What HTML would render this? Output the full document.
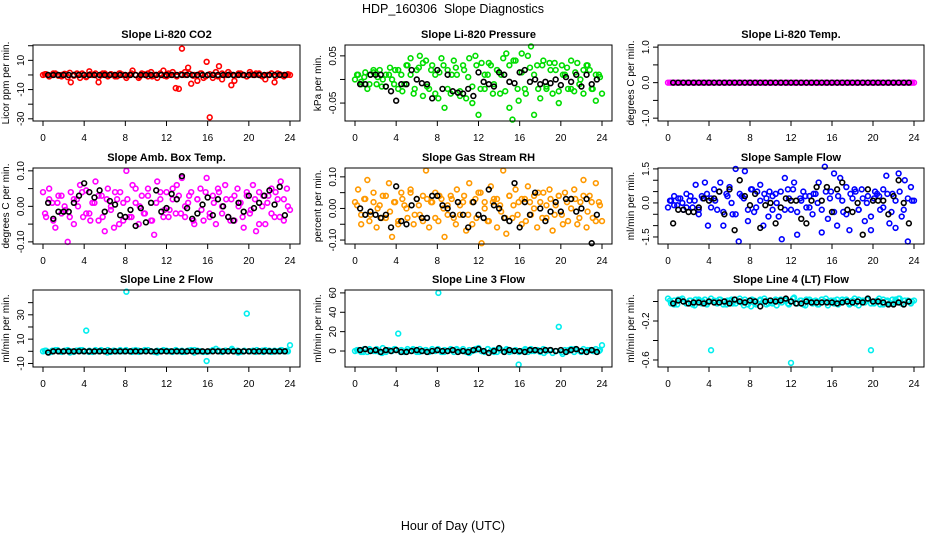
<!DOCTYPE html>
<html><head><meta charset="utf-8"><style>
body{margin:0;background:#fff;}
svg{display:block;font-family:"Liberation Sans",sans-serif;}
</style></head><body>
<svg id="chart" width="936" height="540" viewBox="0 0 936 540">
<text x="453" y="13" text-anchor="middle" font-size="12.5">HDP_160306&#160; Slope Diagnostics</text>
<text x="453" y="530" text-anchor="middle" font-size="12.5">Hour of Day (UTC)</text>
</svg>
<script>
const xTicks=[0,4,8,12,16,20,24];
const titles=["Slope Li-820 CO2","Slope Li-820 Pressure","Slope Li-820 Temp.","Slope Amb. Box Temp.","Slope Gas Stream RH","Slope Sample Flow","Slope Line 2 Flow","Slope Line 3 Flow","Slope Line 4 (LT) Flow"];
const yTitles=["Licor ppm per min.","kPa per min.","degrees C per min.","degrees C per min.","percent per min.","ml/min per min.","ml/min per min.","ml/min per min.","ml/min per min."];
const colors=["#ff0000","#00dd00","#ff00ff","#ff00ff","#ff9900","#0000ff","#00eeee","#00eeee","#00eeee"];
const yRanges=[[-31.5,20.5],[-0.088,0.073],[-1.08,1.06],[-0.106,0.108],[-0.1125,0.128],[-1.81,1.54],[-12.9,50.4],[-16.5,63],[-0.672,0.118]];
const yTickVals=[[20,10,0,-10,-20,-30],[0.05,0,-0.05],[1,0.5,0,-0.5,-1],[0.1,0.05,0,-0.05,-0.1],[0.1,0.05,0,-0.05,-0.1],[1.5,1,0.5,0,-0.5,-1,-1.5],[40,30,20,10,0,-10],[60,40,20,0],[0,-0.2,-0.4,-0.6]];
const yTickLabels=[["","10","","-10","","-30"],["0.05","","-0.05"],["1.0","","0.0","","-1.0"],["0.10","","0.00","","-0.10"],["0.10","","0.00","","-0.10"],["1.5","","","0.0","","","-1.5"],["","30","","10","","-10"],["60","40","20","0"],["","-0.2","","-0.6"]];

// colored (all data) series values, evenly spread across 0..24 h
const co2All=[0,0.5,-1,0,1,-0.5,0,0.8,-1.5,-5,0,1,-2,0,-1.5,2.5,0,1,-5,0,1,-1,0.5,0,-1,1,0,-2,0,3,0,-2,1,0,-1,2,0,-2,1,3,-1,0,2,-9,-9.5,18,2,5,-6,0,-4,1,-2,9,-29,-2,2,6,-3,0,2,-7,-4,0,1,0,-1,2,0,1,0,-1,-3,0,1,-5,1,0,-1,0,0];
const presAll=[0,0.01,-0.01,0.005,-0.02,0.01,0.015,-0.01,0.02,0,-0.015,0.01,0,0.02,-0.02,0.01,-0.01,0.03,0.045,-0.03,0.02,0.05,-0.035,0.04,-0.02,0.03,0.01,-0.04,0.045,-0.06,0.02,-0.03,0.04,0.01,-0.035,0.03,-0.04,0.045,-0.05,0.05,-0.075,0.035,-0.02,0.01,0.03,-0.01,0.02,-0.03,0.045,0.055,-0.06,-0.085,0.04,-0.045,0.055,-0.02,0.05,0.07,-0.075,0.03,-0.04,0.04,-0.02,0.035,-0.03,0.02,-0.05,0.03,0.01,-0.02,0.04,-0.025,0.035,0,-0.03,0.03,0.02,-0.02,-0.045,0.01,-0.03];
const tempAll=[0,0,0,0,0,0,0,0,0,0,0,0,0,0,0,0,0,0,0,0,0,0,0,0,0,0,0,0,0,0,0,0,0,0,0,0,0,0,0,0,0,0,0,0,0,0,0,0,0,0,0,0,0,0,0,0,0,0,0,0,0,0,0,0,0,0,0,0,0,0,0,0,0,0,0,0,0,0,0,0,0];
const ambAll=[0.04,-0.03,0.05,0.01,-0.06,0.03,-0.02,0,-0.1,0.04,-0.05,0.02,0.06,-0.03,0.045,-0.02,0.01,0.07,-0.04,0.03,-0.07,0.05,0,-0.06,0.02,0.04,-0.04,0.1,-0.03,0.06,0.01,-0.05,0.03,-0.02,0.05,-0.04,-0.08,0.07,0.02,-0.03,0.04,-0.01,0.05,-0.02,0.03,0.08,-0.03,0.01,0.04,-0.05,0.02,0.05,-0.04,0.08,-0.02,0.03,-0.05,0.04,0,0.06,-0.03,0.02,-0.04,0.05,0.01,-0.06,0.03,-0.02,0.06,-0.07,0.04,0,-0.05,0.03,0.05,-0.03,0.02,0.07,-0.04,0.05,-0.01];
const rhAll=[0.02,0.06,-0.05,0.03,0.09,-0.02,0.05,-0.06,0.01,0.04,-0.03,0.08,-0.09,0.02,-0.04,0.05,0.01,-0.03,0.06,-0.05,0.03,-0.02,0.04,0.12,-0.06,0.02,0.05,-0.04,0.03,-0.09,0.01,0.04,-0.03,0.06,-0.02,0.02,-0.07,0.08,-0.05,0.03,0.05,-0.11,0.02,-0.04,0.07,0.03,-0.06,0.01,0.12,-0.08,0.04,-0.03,0.06,0.02,-0.05,0.03,0.07,-0.02,0.04,-0.06,0.02,0.05,-0.03,0.06,-0.07,0.01,0.04,-0.02,0.05,-0.04,0.03,0.06,-0.05,0.02,0.09,-0.06,0.04,-0.03,0.08,0.02,-0.04];
const flowAll=[-0.2,0.1,0.3,-0.1,0.2,-0.3,0.4,0.1,-0.2,0.8,-0.5,0.3,0.9,-1.0,0.2,0.6,-0.3,0.9,-1.0,0.4,0.7,-0.5,1.5,-1.7,0.3,1.4,-0.8,0.6,-0.4,0.5,0.8,-1.0,0.2,0.5,-0.3,0.4,-0.6,-1.6,1.1,0.6,-0.3,0.9,-1.4,0.2,0.5,-0.2,0.3,-0.5,0.4,0.9,-1.3,1.6,-0.7,0.5,1.3,-1.0,1.1,-0.4,0.7,-1.2,0.2,0.5,-0.3,0.6,-0.8,0.3,-1.2,0.2,0.4,-0.3,0.6,1.2,-0.9,0.4,-1.1,1.3,-0.6,1.0,-1.7,0.7,0.1];
const line2All=[0,0.5,-1,0.5,1,0,-0.5,0.5,1,0,-0.5,0.5,1,0,17,0.5,-0.5,1,0,0.5,0,1,-0.5,0.5,0,1,0,49,0,0.5,1,-0.5,0,0.5,1,0,-0.5,0.5,0,1,0.5,0,-0.5,1,0,0.5,-0.5,0.5,1,-1,0.5,0,-0.5,-8,0,1,2,0.5,-0.5,0.5,0,1,0,0.5,-0.5,0,31,0,0.5,-0.5,0,0.5,1,0,-0.5,0.5,0,1,0,0.5,5];
const line3All=[0,1,-1,2,-1,1,0,2,-1,3,-1,1,0,2,18,1,-1,2,0,1,-1,2,0,1,-1,2,0,60,-1,1,0,2,-1,1,0,2,-1,1,0,2,3,0,-1,2,0,1,-1,2,0,1,-1,0,1,-14,0,1,-1,2,0,1,-1,2,0,1,-2,0,25,-1,1,0,2,-1,1,0,2,-1,1,0,2,0,6];
const line4All=[0.03,-0.02,0.01,-0.03,0.02,0,-0.02,0.01,-0.03,0.02,0.01,-0.02,0.02,-0.01,-0.5,0.01,-0.02,0.02,0,-0.03,0.01,-0.02,0.02,0,-0.01,0.02,-0.03,-0.05,0.01,-0.02,0.02,0,-0.03,0.01,-0.02,0.02,0,-0.01,0.02,-0.02,-0.63,0.04,-0.02,0.01,-0.03,0.02,0,-0.02,0.01,-0.03,0.02,0,-0.04,0.01,-0.02,0.02,-0.01,0,0.02,-0.03,0.01,-0.02,0.02,0,-0.01,0.03,-0.5,-0.02,0.01,-0.03,0.02,0,-0.02,0.02,-0.01,0.03,-0.02,0.01,0,-0.02,0.01];

// second colored batch (denser cloud), spread across 0..24 h
const co2AllB=[0.5,-1,1,0,-1,0.5,1.5,-0.5,0,1,-1,0.5,0,-1.5,1,0,0.5,-1,1,0,-0.5,1,0,-1,0.5,1,-1,0,0.5,-0.5,1,0,-1,0.5,0,1,-0.5,0,1,-1,0.5,0,-1,1,0,0.5,-0.5,1,0,-1,0.5,0,1,-0.5,0,1,-1,0.5,0,0.5];
const presAllB=[0.01,-0.005,0.015,-0.01,0.02,0.005,-0.015,0.01,0.025,-0.01,0.02,-0.025,0.03,0.01,-0.02,0.025,0.035,-0.015,0.02,-0.03,0.015,0.03,-0.02,0.01,0.025,-0.025,0.02,0.005,-0.015,0.03,-0.02,0.01,0.035,-0.03,0.02,0.01,-0.025,0.03,0.04,-0.02,0.015,-0.03,0.025,0.01,-0.02,0.03,-0.015,0.02,0.035,-0.025,0.01,0.025,-0.02,0.015,-0.01,0.02,0.03,-0.02,0.01,0.005];
const tempAllB=[0,0,0,0,0,0,0,0,0,0,0,0,0,0,0,0,0,0,0,0,0,0,0,0,0,0,0,0,0,0,0,0,0,0,0,0,0,0,0,0];
const ambAllB=[-0.02,0.02,-0.04,0.01,0.03,-0.01,-0.03,0.02,0,0.04,-0.02,-0.04,0.01,0.03,-0.03,0.02,-0.01,0.04,-0.05,0.01,0.02,-0.03,0.05,0,-0.02,0.03,-0.04,0.01,0.04,-0.01,-0.03,0.02,0.06,-0.02,0,0.03,-0.04,0.02,-0.01,0.04,-0.03,0.01,0.05,-0.02,0.02,-0.04,0.03,0,-0.03,0.04,-0.01,0.02,-0.05,0.03,0.01,-0.02,0.04,-0.03,0.02,0];
const rhAllB=[0.01,-0.02,0.03,-0.04,0.02,0,-0.03,0.04,-0.01,0.02,-0.05,0.03,0,0.05,-0.02,0.01,-0.04,0.03,0.02,-0.03,0.04,0,-0.02,0.03,-0.05,0.01,0.04,-0.02,0.02,-0.03,0.05,0,-0.04,0.02,0.03,-0.01,-0.03,0.04,0.01,-0.02,0.03,-0.04,0.02,0,0.05,-0.03,0.01,0.03,-0.02,0.04,-0.05,0.02,0,0.03,-0.03,0.04,-0.01,0.02,-0.04,0.01];
const flowAllB=[0.1,-0.1,0.2,0,-0.2,0.3,0.1,-0.3,0.2,0.4,-0.2,0.1,0.5,-0.4,0.3,0,-0.5,0.4,0.2,-0.3,0.6,-0.2,0.1,0.4,-0.6,0.3,0,0.5,-0.3,0.2,0.6,-0.4,0.1,0.3,-0.2,0.4,0,-0.3,0.5,0.2,-0.4,0.3,0.1,-0.5,0.4,0.6,-0.3,0.2,0,-0.6,0.5,0.3,-0.2,0.4,-0.4,0.1,0.5,-0.3,0.2,0.1];
const line2AllB=[0.5,-0.5,1,0,-1,0.5,1,-0.5,0,1,-1,0.5,0,1,-0.5,0.5,1,0,-1,0.5,0,1,-0.5,0.5,1,0,-0.5,1,0,0.5,2,-1,0.5,0,1,-0.5,0.5,0,1,0];
const line3AllB=[1,-1,2,0,-2,1,2,-1,0,2,-1,1,0,2,-1,1,2,0,-2,1,0,2,-1,1,2,0,-1,2,0,1,-2,1,0,-3,1,2,-1,1,0,1];
const line4AllB=[0.01,-0.03,0.02,0.03,-0.02,0.01,-0.04,0.02,0,-0.03,0.03,-0.01,0.02,-0.03,0.01,0.02,-0.02,0.03,-0.04,0,0.02,-0.03,0.01,0.03,-0.02,0,-0.04,0.02,0.01,-0.03,0.03,-0.02,0.01,-0.04,0.02,0,-0.03,0.02,0.03,-0.01,0.01,-0.03,0.02,0,-0.02,0.03,-0.04,0.01,0.02,-0.02,0,0.03,-0.03,0.01,-0.02,0.02,0.03,-0.03,0.01,0];

// black (subset) series values at 0.5..23.5 h
const co2Sub=[0,0,0,0,0,0,0,0,0,0,0,0,0,0,0,0,0,0,0,0,0,0,0,0,0,0,0,0,0,0,0,0,0,0,0,0,0,0,0,0,0,0,0,0,0,0,0];
const presSub=[-0.01,-0.01,0.01,0.01,0.01,-0.015,-0.025,-0.045,-0.01,-0.01,0.02,0,-0.008,-0.01,-0.04,0.02,-0.02,0.01,-0.025,-0.028,-0.03,-0.02,-0.035,0.015,-0.005,-0.01,-0.015,0.015,0.01,-0.005,-0.008,0.015,0.02,-0.005,0,-0.01,-0.005,-0.008,0,-0.012,0.005,-0.005,0.01,-0.015,0.01,-0.01,0];
const tempSub=[0,0,0,0,0,0,0,0,0,0,0,0,0,0,0,0,0,0,0,0,0,0,0,0,0,0,0,0,0,0,0,0,0,0,0,0,0,0,0,0,0,0,0,0,0,0,0];
const ambSub=[0.01,-0.035,-0.015,-0.015,-0.015,0.01,0.03,0.065,0.04,0.025,0.045,-0.015,0.015,0.005,-0.025,-0.03,-0.01,-0.055,-0.005,-0.045,0.01,0.045,-0.015,-0.005,0.035,0.02,0.085,-0.005,-0.035,-0.02,0.005,0.025,-0.025,0.02,0,-0.03,-0.04,0.01,-0.015,0.03,-0.005,0.01,0.03,0.045,0.005,0.055,-0.025];
const rhSub=[0,-0.02,-0.01,-0.02,-0.03,-0.02,-0.06,0.07,-0.04,-0.05,0.01,0.03,-0.03,-0.03,0.04,0.04,0.01,0,-0.02,0.02,-0.02,-0.06,0.02,-0.02,-0.03,0.06,0.01,0,-0.03,-0.04,0.08,-0.06,0.02,-0.02,0.05,0,-0.04,-0.01,0.02,-0.01,0.03,0.03,-0.01,0,0.03,-0.11,-0.02];
const flowSub=[-0.9,-0.3,-0.3,-0.4,-0.4,-0.2,0.2,0.1,0.2,0.5,-0.5,0.6,-1.2,1.0,0.3,-0.1,0.4,-1.1,-0.1,0,-0.9,-0.2,0.2,0.1,0.1,-0.7,-0.9,0.1,0.7,0.1,0.7,-0.4,0.6,0.9,-0.3,-0.4,0,-1.4,0.6,0.1,0.1,0.1,-0.5,0.3,1.0,0,-0.9];
const line2Sub=[-1,0,0,0,0,0,0,0,0,0,0,0,0,0,0,0,0,0,0,0,0,0,0,0,0,0,0,0,0,0,0,0,0,0,0,0,0,0,0,0,0,0,0,0,0,0,0];
const line3Sub=[1,2,0,1,-1,1,0,1,-1,-1,0,1,0,-1,0,1,0,0,1,-1,0,-1,1,2,0,-2,0,3,-1,1,0,0,-1,1,1,0,1,1,0,1,-1,1,2,0,-1,1,-1];
const line4Sub=[-0.02,0.01,0,-0.02,-0.01,-0.01,-0.02,0,-0.01,-0.01,0,-0.02,0.02,0,-0.01,0.01,0,-0.05,0,0.01,0,0.01,0.03,0,-0.02,-0.02,0,-0.01,-0.01,-0.01,-0.01,-0.01,-0.02,-0.01,0,-0.01,0,-0.01,0.03,0,0,-0.01,-0.03,-0.03,-0.01,-0.03,0];

const allSeries=[co2All,presAll,tempAll,ambAll,rhAll,flowAll,line2All,line3All,line4All];
const allSeriesB=[co2AllB,presAllB,tempAllB,ambAllB,rhAllB,flowAllB,line2AllB,line3AllB,line4AllB];
const subSeries=[co2Sub,presSub,tempSub,ambSub,rhSub,flowSub,line2Sub,line3Sub,line4Sub];

const NS="http://www.w3.org/2000/svg";
const svg=document.getElementById('chart');
const cols=[{l:33,r:300,x0:43,x24:290},{l:345,r:612,x0:355,x24:602},{l:658,r:924,x0:668,x24:914}];
const rows=[{t:45,b:121},{t:168,b:244},{t:290,b:367}];
function mk(tag,attrs,parent){const e=document.createElementNS(NS,tag);for(const k in attrs)e.setAttribute(k,attrs[k]);(parent||svg).appendChild(e);return e;}

for(let p=0;p<9;p++){
  const c=cols[p%3],r=rows[Math.floor(p/3)];
  const g=mk('g',{});
  
  
  const xs=h=>c.x0+(c.x24-c.x0)*h/24;
  const [ymin,ymax]=yRanges[p];
  const ys=v=>r.b-(v-ymin)/(ymax-ymin)*(r.b-r.t);
  const t=mk('text',{x:(c.l+c.r)/2,y:r.t-7,'text-anchor':'middle','font-size':'11','font-weight':'bold'},g);
  t.textContent=titles[p];
  
  
  xTicks.forEach(h=>{
    mk('line',{x1:xs(h),x2:xs(h),y1:r.b,y2:r.b+5,stroke:'#000'},g);
    const tl=mk('text',{x:xs(h),y:r.b+20,'text-anchor':'middle','font-size':'10'},g);
    tl.textContent=h;
    
    
  });
  yTickVals[p].forEach((v,i)=>{
    const y=ys(v);
    mk('line',{x1:c.l-5,x2:c.l,y1:y,y2:y,stroke:'#000'},g);
    if(yTickLabels[p][i]){
      const tl=mk('text',{x:c.l-9,y:y,'text-anchor':'middle','font-size':'10',transform:`rotate(-90 ${c.l-9} ${y})`},g);
      tl.textContent=yTickLabels[p][i];
      
      
    }
  });
  const yt=mk('text',{x:c.l-24,y:(r.t+r.b)/2,'text-anchor':'middle','font-size':'10',transform:`rotate(-90 ${c.l-24} ${(r.t+r.b)/2})`},g);
  yt.textContent=yTitles[p];
  
  
  [allSeries[p],allSeriesB[p]].forEach((A,k)=>{
    A.forEach((v,i)=>{
      const h=k===0? i*24/(A.length-1) : 0.2+i*23.6/(A.length-1);
      const cx=xs(h),cy=ys(v);
      if(cy<r.t-3||cy>r.b+3)return;
      const pt=mk('circle',{cx:cx,cy:cy,r:2.4,fill:'none',stroke:colors[p],'stroke-width':1.6},g);
      
      
    });
  });
  const S=subSeries[p];
  S.forEach((v,i)=>{
    const cx=xs(0.5+i*23/(S.length-1)),cy=ys(v);
    const pt=mk('circle',{cx:cx,cy:cy,r:2.4,fill:'none',stroke:'#000','stroke-width':1.6},g);
    
    
  });
  const box=mk('rect',{x:c.l,y:r.t,width:c.r-c.l,height:r.b-r.t,fill:'none',stroke:'#000'},g);
  
  
}
</script>
</body></html>
